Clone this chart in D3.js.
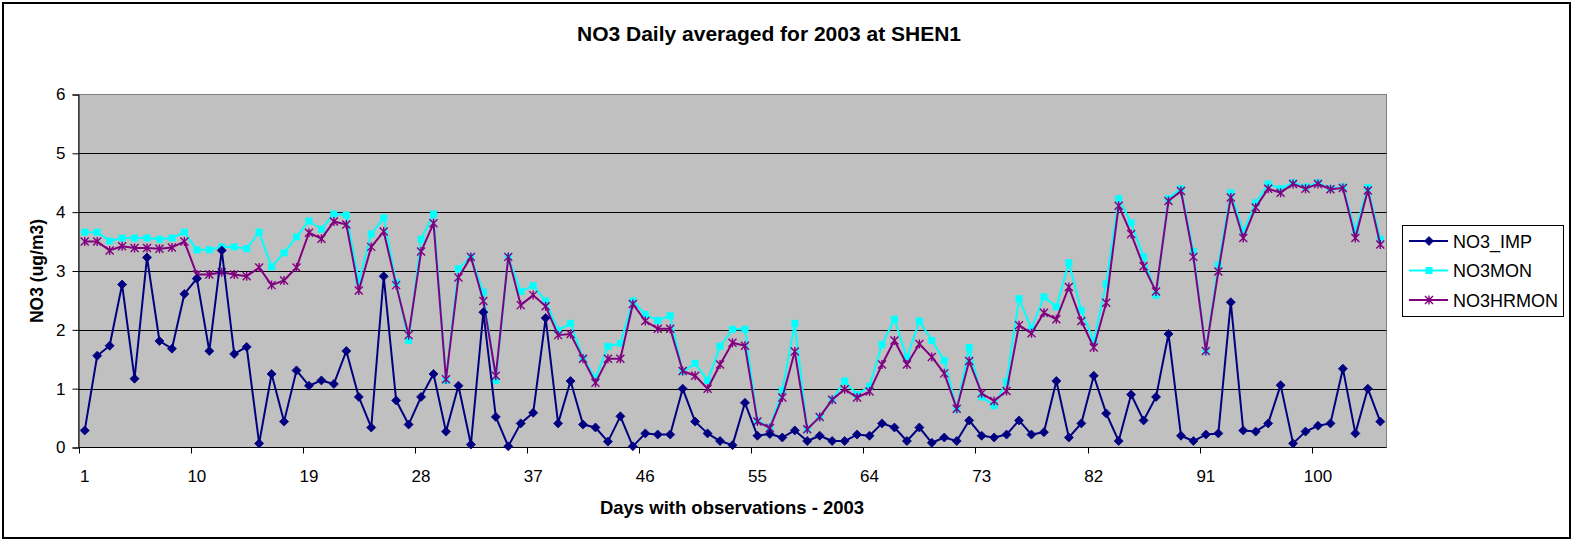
<!DOCTYPE html>
<html>
<head>
<meta charset="utf-8">
<script src="https://cdn.jsdelivr.net/npm/d3@7"></script>
<style>
    body { margin: 0; background: #fff; }
    svg { display: block; font-family: "Liberation Sans", Arial, sans-serif; }
</style>
</head>
<body>
<svg id="chart" width="1596" height="542"></svg>
<script>
// Values, one per day with observations
let days = d3.range(1, 106);
let tickDays = [1, 10, 19, 28, 37, 46, 55, 64, 73, 82, 91, 100];
let yTicks = [0, 1, 2, 3, 4, 5, 6];

let no3Imp = [0.29, 1.56, 1.73, 2.77, 1.17, 3.23, 1.81, 1.68, 2.61, 2.87, 1.64, 3.35, 1.59, 1.71, 0.07, 1.25, 0.44, 1.31, 1.05,
    1.14, 1.08, 1.64, 0.86, 0.34, 2.91, 0.80, 0.39, 0.86, 1.25, 0.27, 1.05, 0.05, 2.30, 0.52, 0.02, 0.41, 0.59,
    2.20, 0.41, 1.13, 0.39, 0.34, 0.10, 0.53, 0.02, 0.24, 0.22, 0.22, 1.00, 0.44, 0.24, 0.11, 0.04, 0.76, 0.20, 0.23,
    0.17, 0.29, 0.11, 0.20, 0.11, 0.11, 0.22, 0.20, 0.41, 0.34, 0.11, 0.34, 0.08, 0.17, 0.11, 0.46, 0.20, 0.17,
    0.22, 0.46, 0.22, 0.26, 1.13, 0.17, 0.41, 1.22, 0.58, 0.11, 0.90, 0.46, 0.86, 1.93, 0.20, 0.11, 0.22, 0.24, 2.47,
    0.29, 0.27, 0.41, 1.06, 0.07, 0.27, 0.37, 0.41, 1.34, 0.24, 1.00, 0.44];

let no3Mon = [3.66, 3.66, 3.51, 3.56, 3.56, 3.56, 3.54, 3.56, 3.66, 3.36, 3.36, 3.41, 3.41, 3.38, 3.66, 3.07, 3.31, 3.58, 3.85,
    3.71, 3.97, 3.95, 2.83, 3.63, 3.90, 2.80, 1.82, 3.54, 3.97, 1.14, 3.04, 3.24, 2.64, 1.14, 3.24, 2.65, 2.75,
    2.49, 1.99, 2.11, 1.52, 1.18, 1.72, 1.77, 2.49, 2.26, 2.16, 2.24, 1.29, 1.43, 1.14, 1.72, 2.01, 2.01, 0.45, 0.34,
    0.97, 2.11, 0.31, 0.52, 0.81, 1.13, 0.90, 1.04, 1.75, 2.18, 1.52, 2.15, 1.82, 1.48, 0.65, 1.70, 0.86, 0.71,
    1.12, 2.53, 2.02, 2.56, 2.39, 3.14, 2.33, 1.81, 2.78, 4.23, 3.82, 3.24, 2.59, 4.23, 4.40, 3.33, 1.64, 3.10, 4.33,
    3.67, 4.16, 4.48, 4.40, 4.50, 4.43, 4.50, 4.40, 4.43, 3.69, 4.42, 3.54];

let no3HrMon = [3.50, 3.50, 3.35, 3.42, 3.39, 3.39, 3.38, 3.40, 3.50, 2.94, 2.94, 2.98, 2.94, 2.91, 3.06, 2.76, 2.84, 3.06, 3.65,
    3.55, 3.84, 3.79, 2.67, 3.41, 3.67, 2.76, 1.91, 3.33, 3.81, 1.16, 2.89, 3.24, 2.49, 1.22, 3.24, 2.42, 2.59,
    2.40, 1.91, 1.93, 1.51, 1.10, 1.51, 1.51, 2.44, 2.15, 2.02, 2.02, 1.30, 1.22, 1.00, 1.41, 1.78, 1.73, 0.44, 0.33,
    0.85, 1.63, 0.31, 0.52, 0.81, 0.99, 0.85, 0.95, 1.41, 1.82, 1.41, 1.76, 1.54, 1.26, 0.66, 1.47, 0.92, 0.79,
    0.96, 2.08, 1.94, 2.29, 2.18, 2.73, 2.15, 1.70, 2.46, 4.11, 3.63, 3.08, 2.65, 4.19, 4.36, 3.24, 1.64, 2.99, 4.25,
    3.56, 4.08, 4.40, 4.33, 4.48, 4.40, 4.48, 4.39, 4.41, 3.56, 4.37, 3.45];

let seriesNames = ["NO3_IMP", "NO3MON", "NO3HRMON"];
let seriesColors = ["#000080", "#00FFFF", "#800080"];
let seriesMarkers = ["diamond", "square", "star"];
let seriesValues = [no3Imp, no3Mon, no3HrMon];

let svg = d3.select("#chart");
let plot = { left: 78.5, right: 1386.5, top: 94.5, bottom: 447.5 };

let xScale = d3.scaleBand().domain(days).range([plot.left, plot.right]).padding(0);
let yScale = d3.scaleLinear().domain([0, 6]).range([plot.bottom, plot.top]);
let xMid = function (d) { return xScale(d) + xScale.bandwidth() / 2; };

// chart frame
svg.append("rect")
    .attr("x", 3).attr("y", 3)
    .attr("width", 1567).attr("height", 535)
    .attr("fill", "#fff")
    .attr("stroke", "#000")
    .attr("stroke-width", 2);

// plot area
svg.append("rect")
    .attr("x", plot.left).attr("y", plot.top)
    .attr("width", plot.right - plot.left).attr("height", plot.bottom - plot.top)
    .attr("fill", "#C0C0C0")
    .attr("stroke", "#808080")
    .attr("stroke-width", 1);

svg.append("g")
    .selectAll("line")
    .data(yTicks.filter(function (t) { return t > 0 && t < 6; }))
    .enter().append("line")
    .attr("x1", plot.left).attr("x2", plot.right)
    .attr("y1", function (d) { return Math.round(yScale(d)) + 0.5; })
    .attr("y2", function (d) { return Math.round(yScale(d)) + 0.5; })
    .attr("stroke", "#000")
    .attr("stroke-width", 1);

// y axis
let yAxis = svg.append("g")
    .attr("transform", "translate(" + plot.left + ",0)")
    .call(d3.axisLeft(yScale).tickValues(yTicks).tickSize(6).tickPadding(7).tickFormat(d3.format("d")));
yAxis.select(".domain").attr("stroke", "#000");
yAxis.selectAll(".tick line").attr("stroke", "#000");
yAxis.selectAll(".tick text")
    .attr("font-size", "17px")
    .attr("font-family", "Liberation Sans, Arial, sans-serif")
    .attr("fill", "#000");

// x axis: tick marks every 9 categories on the boundaries, labels on the centres
let xAxisG = svg.append("g");
xAxisG.append("line")
    .attr("x1", plot.left).attr("x2", plot.right)
    .attr("y1", plot.bottom).attr("y2", plot.bottom)
    .attr("stroke", "#000");
xAxisG.selectAll(".xtick")
    .data(tickDays)
    .enter().append("line")
    .attr("class", "xtick")
    .attr("x1", function (d) { return Math.round(xScale(d)) + 0.5; })
    .attr("x2", function (d) { return Math.round(xScale(d)) + 0.5; })
    .attr("y1", plot.bottom).attr("y2", plot.bottom + 6)
    .attr("stroke", "#000");
xAxisG.selectAll(".xlabel")
    .data(tickDays)
    .enter().append("text")
    .attr("class", "xlabel")
    .attr("x", xMid)
    .attr("y", 481.5)
    .attr("text-anchor", "middle")
    .attr("font-size", "17px")
    .text(function (d) { return d; });

// markers
function drawMarker(g, type, color, x, y) {
    if (type === "diamond") {
        g.append("path")
            .attr("d", "M" + x + "," + (y - 4.5) + "L" + (x + 4.5) + "," + y + "L" + x + "," + (y + 4.5) + "L" + (x - 4.5) + "," + y + "Z")
            .attr("fill", color).attr("stroke", color).attr("stroke-width", 0.8);
    } else if (type === "square") {
        g.append("rect")
            .attr("x", x - 3.5).attr("y", y - 3.5)
            .attr("width", 7).attr("height", 7)
            .attr("fill", color);
    } else {
        let r = 4;
        g.append("path")
            .attr("d", "M" + (x - r) + "," + (y - r) + "L" + (x + r) + "," + (y + r) +
                "M" + (x - r) + "," + (y + r) + "L" + (x + r) + "," + (y - r) +
                "M" + x + "," + (y - r - 0.5) + "L" + x + "," + (y + r + 0.5))
            .attr("fill", "none").attr("stroke", color).attr("stroke-width", 1.4);
    }
}

let line = d3.line()
    .x(function (d, i) { return xMid(days[i]); })
    .y(function (d) { return yScale(d); });

// NO3MON, then NO3HRMON, then NO3_IMP on top
[1, 2, 0].forEach(function (s) {
    let g = svg.append("g");
    g.append("path")
        .datum(seriesValues[s])
        .attr("d", line)
        .attr("fill", "none")
        .attr("stroke", seriesColors[s])
        .attr("stroke-width", 2)
        .attr("stroke-linejoin", "round");
    seriesValues[s].forEach(function (v, i) {
        drawMarker(g, seriesMarkers[s], seriesColors[s], xMid(days[i]), yScale(v));
    });
});

// titles
svg.append("text")
    .attr("x", 769).attr("y", 41)
    .attr("text-anchor", "middle")
    .attr("font-size", "21px")
    .attr("font-weight", "bold")
    .text("NO3 Daily averaged for 2003 at SHEN1");

svg.append("text")
    .attr("x", 732).attr("y", 514)
    .attr("text-anchor", "middle")
    .attr("font-size", "18.5px")
    .attr("font-weight", "bold")
    .text("Days with observations - 2003");

svg.append("text")
    .attr("transform", "translate(43,271) rotate(-90)")
    .attr("text-anchor", "middle")
    .attr("font-size", "17.5px")
    .attr("font-weight", "bold")
    .text("NO3 (ug/m3)");

// legend
let legend = svg.append("g");
legend.append("rect")
    .attr("x", 1402.5).attr("y", 225.5)
    .attr("width", 161).attr("height", 91)
    .attr("fill", "#fff")
    .attr("stroke", "#000")
    .attr("stroke-width", 1);

seriesNames.forEach(function (name, i) {
    let y = 241 + i * 29.5;
    legend.append("line")
        .attr("x1", 1409).attr("x2", 1448)
        .attr("y1", y).attr("y2", y)
        .attr("stroke", seriesColors[i])
        .attr("stroke-width", 2);
    drawMarker(legend, seriesMarkers[i], seriesColors[i], 1429, y);
    legend.append("text")
        .attr("x", 1453).attr("y", y + 6.5)
        .attr("font-size", "18px")
        .text(name);
});
</script>
</body>
</html>
